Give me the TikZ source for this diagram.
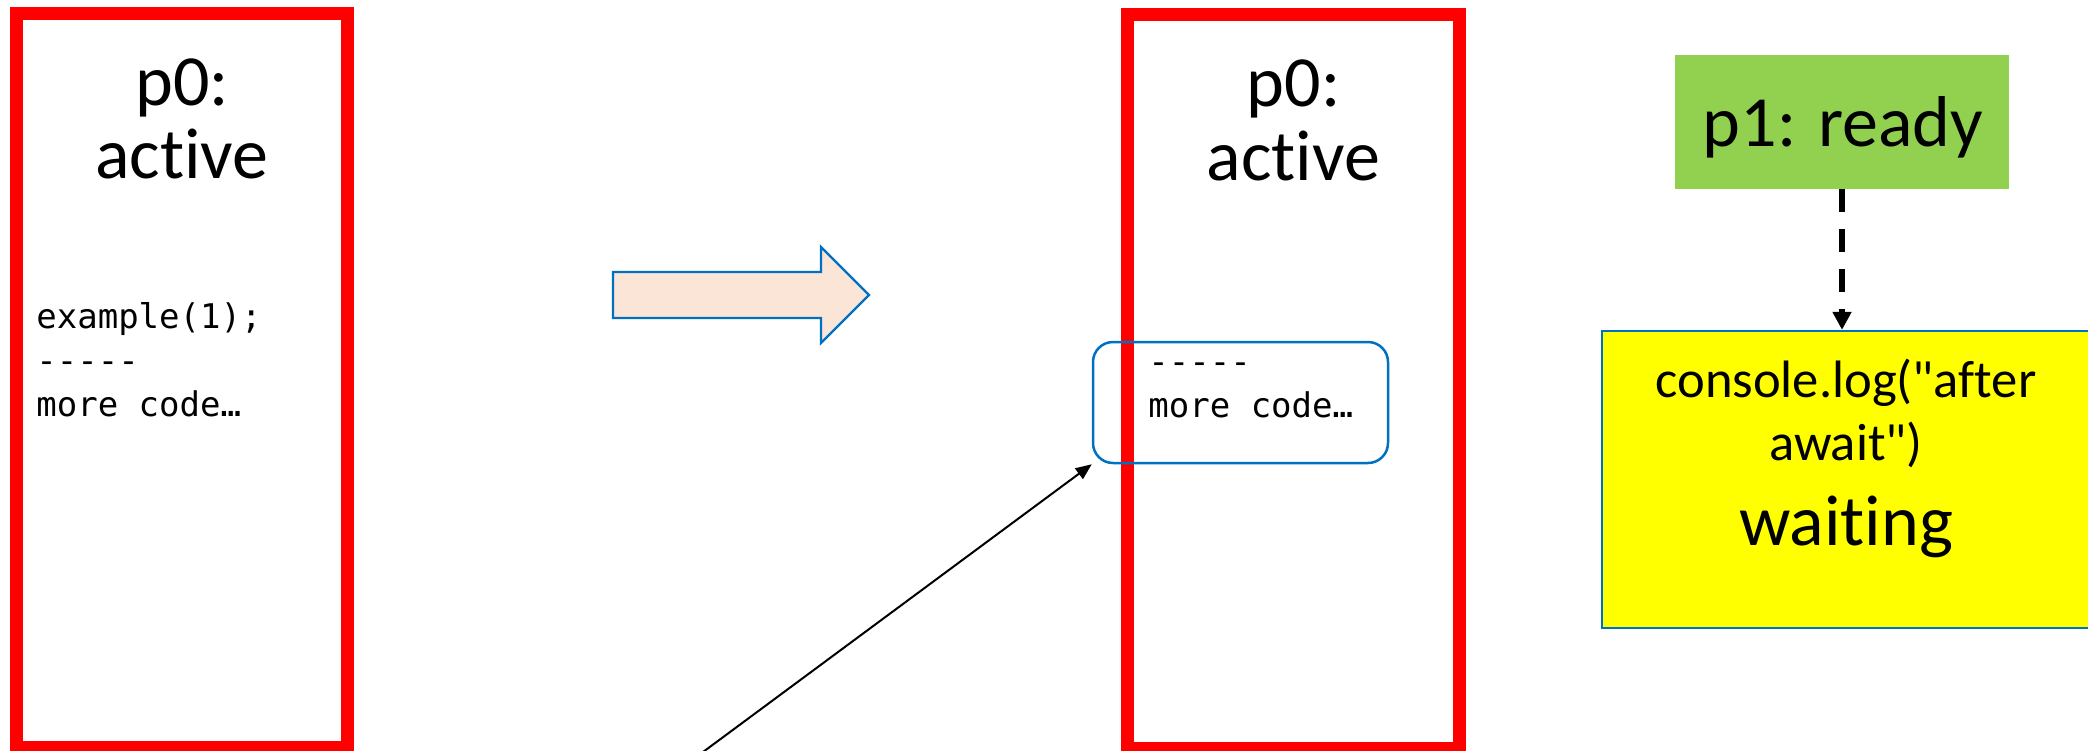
\documentclass[tikz,border=0pt]{standalone}
\usepackage{fontspec}
\setmainfont{Carlito}[Ligatures={TeXOff,NoCommon}]
\setmonofont{DejaVu Sans Mono}
\usetikzlibrary{arrows.meta}
\definecolor{pred}{HTML}{FF0000}
\definecolor{pblue}{HTML}{0070C0}
\definecolor{ppeach}{HTML}{FBE5D6}
\definecolor{pgreen}{HTML}{92D050}
\definecolor{pyellow}{HTML}{FFFF00}
\begin{document}
\begin{tikzpicture}[x=0.5pt,y=-0.5pt,
  redbox/.style={draw=pred,line width=6.5pt,minimum width=165.5pt,minimum height=367pt,inner sep=0pt},
  bigtext/.style={font=\fontsize{36}{36}\selectfont,inner sep=0pt,anchor=base},
  midtext/.style={font=\fontsize{26.3}{26.3}\selectfont,inner sep=0pt,anchor=base},
  monotext/.style={font=\ttfamily\fontsize{17}{17}\selectfont,inner sep=0pt,anchor=base west},
  codebox/.style={draw=pblue,line width=1.25pt,rounded corners=10pt,minimum width=147.5pt,minimum height=60.5pt,inner sep=0pt},
  greenbox/.style={fill=pgreen,minimum width=167pt,minimum height=67pt,inner sep=0pt},
  yellowbox/.style={fill=pyellow,draw=pblue,line width=1.1pt,minimum width=244pt,minimum height=148.5pt,inner sep=0pt},
  blockarrow/.style={fill=ppeach,draw=pblue,line width=1.2pt,line join=miter},
  thinarrow/.style={draw=black,line width=1pt,-{Triangle[length=8pt,width=6.5pt]}},
  dasharrow/.style={draw=black,line width=2.6pt,dash pattern=on 11.5pt off 8.5pt,-{Triangle[length=9pt,width=9pt]}}
]
\useasboundingbox (0,0) rectangle (2088,750);
\fill[white] (0,0) rectangle (2088,750);

% left process box
\node[redbox] (box0) at (182,380.5) {};
\node[bigtext] (p0a) at (182,105) {p0:};
\node[bigtext] (act0) at (182,178) {active};
\node[monotext] (ex0) at (36,328) {example(1);};
\node[monotext] (dash0) at (36,372) {-{}-{}-{}-{}-};
\node[monotext] (more0) at (36,416) {more code…};

% block arrow
\path[blockarrow] (613,272) -- (821,272) -- (821,247) -- (869,295) -- (821,343) -- (821,318) -- (613,318) -- cycle;

% middle process box
\node[redbox,minimum width=166pt] (box1) at (1293.5,381.5) {};
\node[bigtext] (p0b) at (1293.5,106) {p0:};
\node[bigtext] (act1) at (1293.5,180) {active};
\node[codebox] (code1) at (1240.5,402.5) {};
\node[monotext] (dash1) at (1148,373) {-{}-{}-{}-{}-};
\node[monotext] (more1) at (1148,417) {more code…};

\coordinate (src) at (703,752);
\draw[thinarrow] (src) -- (code1.south west);

% right side
\node[greenbox] (p1box) at (1842,121.5) {};
\node[bigtext] (p1text) at (1843,146.7) {p1: ready};
\node[yellowbox] (wait) at (1846,479.5) {};
\node[midtext] (cons) at (1846,397) {console.log("after};
\node[midtext] (aw) at (1846,460) {await")};
\node[bigtext] (waiting) at (1846,545) {waiting};
\draw[dasharrow] (p1box.south) -- (p1box.south |- wait.north);
\end{tikzpicture}
\end{document}
